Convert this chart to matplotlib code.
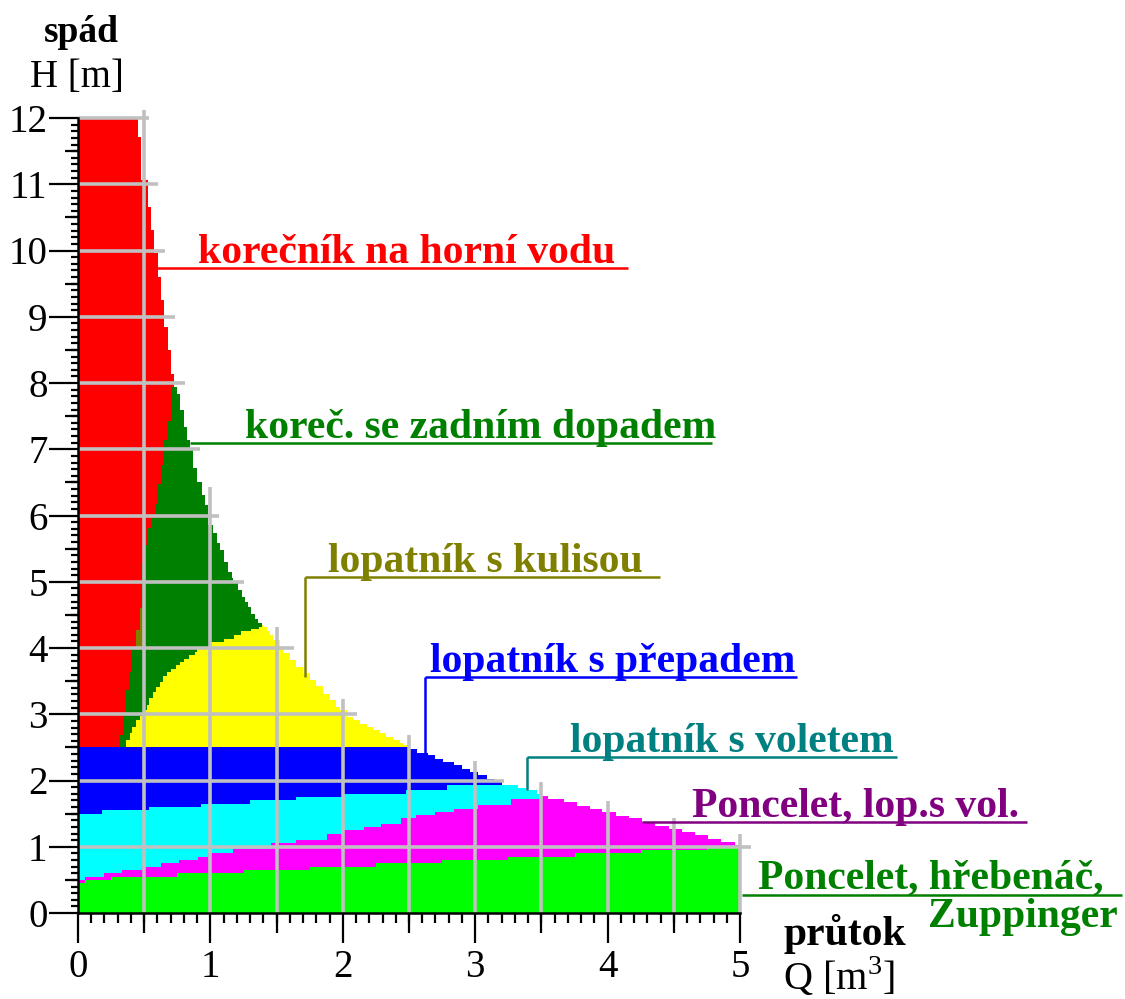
import numpy as np
import matplotlib
matplotlib.use("Agg")
import matplotlib.pyplot as plt
from matplotlib.markers import TICKLEFT, TICKDOWN

# ---------------- data ----------------
# upper envelope of all regions: column start edges (Q) and column tops (H)
env_Q = [0.000, 0.455, 0.476, 0.526, 0.551, 0.576, 0.602, 0.627, 0.652, 0.677,
         0.702, 0.728, 0.745, 0.770, 0.800, 0.820, 0.845, 0.870, 0.896, 0.934,
         0.960, 0.984, 1.020, 1.047, 1.070, 1.100, 1.135, 1.160, 1.170, 1.210,
         1.236, 1.260, 1.286, 1.310, 1.337, 1.360, 1.387, 1.400, 1.425, 1.450,
         1.475, 1.525, 1.550, 1.600, 1.650, 1.700, 1.750, 1.800, 1.850, 1.900,
         1.950, 1.980, 2.030, 2.080, 2.130, 2.180, 2.230, 2.280, 2.330, 2.380,
         2.430, 2.455, 2.510, 2.560, 2.640, 2.700, 2.760, 2.840, 2.900, 2.960,
         3.020, 3.090, 3.140, 3.200, 3.320, 3.380, 3.470, 3.490, 3.550, 3.670,
         3.770, 3.870, 3.960, 4.060, 4.160, 4.260, 4.360, 4.460, 4.560, 4.660,
         4.760, 4.860, 4.960, 5.000]
env_H = [12.00, 11.72, 11.06, 10.66, 10.31, 9.96, 9.60, 9.25, 8.85, 8.50,
         8.14, 7.94, 7.84, 7.59, 7.34, 7.14, 6.99, 6.71, 6.51, 6.31,
         6.16, 5.86, 5.73, 5.58, 5.48, 5.30, 5.15, 5.05, 4.98, 4.88,
         4.77, 4.70, 4.62, 4.52, 4.44, 4.37, 4.34, 4.32, 4.25, 4.20,
         4.12, 4.02, 3.92, 3.82, 3.72, 3.62, 3.52, 3.42, 3.31, 3.21,
         3.11, 3.06, 2.96, 2.91, 2.86, 2.81, 2.76, 2.71, 2.66, 2.61,
         2.56, 2.53, 2.48, 2.41, 2.38, 2.33, 2.28, 2.23, 2.18, 2.13,
         2.08, 2.03, 1.98, 1.93, 1.88, 1.85, 1.80, 1.77, 1.72, 1.67,
         1.62, 1.57, 1.52, 1.47, 1.43, 1.37, 1.32, 1.27, 1.22, 1.17,
         1.12, 1.07, 1.02]

# red region (korecnik na horni vodu): right edge Q for H steps (below where it meets envelope)
red_H = [2.50, 2.68, 3.00, 3.36, 3.64, 4.00, 4.27, 4.60, 5.28, 5.56, 5.81, 5.96,
         6.18, 6.48, 6.76, 7.14, 7.43]
red_Q = [0.320, 0.340, 0.360, 0.390, 0.410, 0.440, 0.470, 0.480, 0.506, 0.531,
         0.556, 0.580, 0.600, 0.627, 0.652, 0.677, 0.702]
red_join_H = 7.94

# small olive patch between red and dark green
olive_H = [4.00, 4.27, 4.62]
olive_Q = [0.44, 0.47]
olive_right = 0.49

# yellow region (lopatnik s kulisou): top, before it reaches the envelope
yel_Q = [0.36, 0.39, 0.41, 0.44, 0.47, 0.50, 0.52, 0.54, 0.57, 0.59, 0.62, 0.64,
         0.67, 0.70, 0.74, 0.77, 0.80, 0.84, 0.88, 0.90, 1.00, 1.10, 1.18, 1.23,
         1.31, 1.37, 1.387]
yel_H = [2.61, 2.71, 2.81, 2.91, 2.98, 3.06, 3.14, 3.24, 3.34, 3.41, 3.49, 3.58,
         3.64, 3.69, 3.74, 3.79, 3.84, 3.89, 3.94, 3.98, 4.09, 4.14, 4.19, 4.25,
         4.28, 4.32]
base_H = 2.5   # top of blue band (lopatnik s prepadem)

# cyan band top (lopatnik s voletem)
cyan_Q = [0.00, 0.18, 0.54, 0.93, 1.30, 1.65, 2.00, 2.48, 2.79, 3.20]
cyan_H = [1.50, 1.55, 1.60, 1.65, 1.70, 1.75, 1.80, 1.85, 1.93]
cyan_end = 3.49

# magenta band top (Poncelet, lop. s vol.)
mag_Q = [0.00, 0.05, 0.20, 0.33, 0.48, 0.63, 0.76, 0.91, 0.98, 1.17, 1.46, 1.65,
         1.88, 2.00, 2.16, 2.29, 2.44, 2.55, 2.70, 2.84, 3.02, 3.27, 3.49]
mag_H = [0.50, 0.55, 0.60, 0.65, 0.70, 0.75, 0.80, 0.85, 0.90, 0.97, 1.05, 1.10,
         1.20, 1.25, 1.30, 1.35, 1.43, 1.48, 1.53, 1.57, 1.63, 1.72]

# lime band top (Poncelet, hrebenac, Zuppinger)
lime_Q = [0.00, 0.05, 0.25, 0.75, 1.25, 1.75, 2.25, 2.75, 3.25, 3.75, 4.25, 4.75, 5.00]
lime_H = [0.45, 0.50, 0.55, 0.60, 0.65, 0.70, 0.75, 0.80, 0.85, 0.90, 0.95, 1.00]

labels = ["korečník na horní vodu", "koreč. se zadním dopadem", "lopatník s kulisou",
          "lopatník s přepadem", "lopatník s voletem", "Poncelet, lop.s vol.",
          "Poncelet, hřebenáč,", "Zuppinger"]
label_colors = ["#FF0000", "#008000", "#808000", "#0000FF", "#008080", "#800080",
                "#008000", "#008000"]
x_ticks = [0, 1, 2, 3, 4, 5]
y_ticks = list(range(0, 13))

# ---------------- drawing ----------------
plt.rcParams["font.family"] = ["Liberation Serif", "DejaVu Serif"]
plt.rcParams["mathtext.fontset"] = "custom"
plt.rcParams["mathtext.rm"] = "Liberation Serif"

W, Hpx = 1125, 999
fig = plt.figure(figsize=(W / 100, Hpx / 100), dpi=100)
ax = fig.add_axes([78 / W, 86 / Hpx, 662 / W, 795 / Hpx])
ax.set_xlim(0, 5)
ax.set_ylim(0, 12)

envQ = np.array(env_Q)
envH = np.array(env_H)


def env_segment(q0, q1):
    i0 = int(np.argmin(np.abs(envQ - q0)))
    i1 = int(np.argmin(np.abs(envQ - q1)))
    return list(envQ[i0:i1 + 1]), list(envH[i0:i1])


def sfill(edges, hi, lo, color, z):
    e = np.asarray(edges, float)
    hi = np.asarray(hi, float)
    lo = np.broadcast_to(np.asarray(lo, float), hi.shape)
    ax.fill_between(e, np.append(lo, lo[-1]), np.append(hi, hi[-1]), step="post",
                    color=color, lw=0, antialiased=False, zorder=z)


# dark green: everything under envelope above 2.5
sfill(envQ, np.maximum(envH, base_H), base_H, "#008000", 1)
# blue: everything under envelope below 2.5
sfill(envQ, np.minimum(envH, base_H), 0.0, "#0000FF", 1)

# olive sliver
ax.fill_betweenx(olive_H, olive_Q + [olive_Q[-1]], olive_right, step="post",
                 color="#808000", lw=0, antialiased=False, zorder=1.5)

# yellow
eq, eh = env_segment(1.387, 5.0)
yq = yel_Q[:-1] + eq
yh = yel_H + eh
sfill(yq, np.maximum(yh, base_H), base_H, "#FFFF00", 2)

# red (fill along H)
K = env_H.index(red_join_H)
rh = red_H + env_H[K:0:-1] + [env_H[0]]
rq = red_Q + env_Q[K:0:-1]
rq = rq + [rq[-1]]
ax.fill_betweenx(rh, 0, rq, step="post", color="#FF0000", lw=0,
                 antialiased=False, zorder=3)

# cyan
eq, eh = env_segment(cyan_Q[-1], cyan_end)
sfill(cyan_Q[:-1] + eq, cyan_H + eh, 0.0, "#00FFFF", 4)
# magenta
eq, eh = env_segment(mag_Q[-1], 5.0)
sfill(mag_Q[:-1] + eq, mag_H + eh, 0.0, "#FF00FF", 5)
# lime
sfill(lime_Q, lime_H, 0.0, "#00FF00", 6)

# grid lines clipped near the envelope
grid_c = "#C0C0C0"
grid_lw = 2.6
for xg in np.arange(0.5, 5.01, 0.5):
    mask = (envQ[:-1] < xg) & (envQ[1:] > xg - 0.05)
    top = envH[mask].max() + 0.12
    ax.vlines(xg, 0, top, colors=grid_c, lw=grid_lw, zorder=7, clip_on=False)
for yg in range(1, 13):
    mask = envH >= yg
    right = envQ[1:][mask].max() + 0.08
    ax.hlines(yg, 0, right, colors=grid_c, lw=grid_lw, zorder=7, clip_on=False)

# axes
for s in ["top", "right"]:
    ax.spines[s].set_visible(False)
for s in ["left", "bottom"]:
    ax.spines[s].set_linewidth(1.8)
    ax.spines[s].set_zorder(9)
ax.set_xticks(x_ticks)
ax.set_xticks(np.round(np.arange(0, 5.001, 0.1), 2), minor=True)
ax.set_yticks(y_ticks)
ax.set_yticks(np.round(np.arange(0, 12.001, 0.1), 2), minor=True)
ax.tick_params(axis="x", which="major", length=21.6, width=1.6, pad=4, labelsize=28)
ax.tick_params(axis="x", which="minor", length=7.2, width=1.6)
ax.tick_params(axis="y", which="major", length=20.9, width=1.6, pad=1, labelsize=28)
ax.tick_params(axis="y", which="minor", length=5.0, width=1.6)
half_x = np.arange(0.5, 5, 1.0)
half_y = np.arange(0.5, 12, 1.0)
ax.plot(half_x, np.zeros_like(half_x), ls="none", marker=TICKDOWN, ms=14.4, mew=1.6,
        color="k", clip_on=False, zorder=10)
ax.plot(np.zeros_like(half_y), half_y, ls="none", marker=TICKLEFT, ms=9.4, mew=1.6,
        color="k", clip_on=False, zorder=10)

# region labels with leader lines
lab_pos = [(0.906, 9.81), (1.261, 7.17), (1.888, 5.147), (2.659, 3.638),
           (3.716, 2.43), (4.637, 1.449), (5.136, 0.377), (6.42, -0.211)]
under = [(9.736, 0.597, 4.154), (7.094, 0.846, 4.789), (5.072, 1.715, 4.396),
         (3.562, 2.621, 5.431), (2.355, 3.391, 6.186), (1.374, 4.26, 7.168),
         (0.272, 5.015, 7.885), None]
drops = [None, None, (1.715, 3.562), (2.621, 2.385), (3.391, 1.857), None, None, None]
for txt, col, (tx, ty), u, d in zip(labels, label_colors, lab_pos, under, drops):
    ax.text(tx, ty, txt, color=col, fontsize=30, fontweight="bold",
            ha="left", va="baseline", clip_on=False, zorder=11)
    if u is not None:
        ax.plot([u[1], u[2]], [u[0], u[0]], color=col, lw=1.8, clip_on=False, zorder=11,
                solid_capstyle="butt")
        if d is not None:
            ax.plot([d[0], d[0]], [u[0], d[1]], color=col, lw=1.8, clip_on=False,
                    zorder=11, solid_capstyle="butt")

# axis titles
fig.text(81 / W, 1 - 42 / Hpx, "spád", fontsize=27, fontweight="bold", ha="center",
         va="baseline")
fig.text(77 / W, 1 - 87 / Hpx, "H [m]", fontsize=28, ha="center", va="baseline")
fig.text(783 / W, 1 - 945 / Hpx, "průtok", fontsize=30, fontweight="bold", ha="left",
         va="baseline")
fig.text(783 / W, 1 - 990 / Hpx, r"Q [m$^{\mathrm{3}}$]", fontsize=29, ha="left",
         va="baseline")

fig.savefig("out.png", dpi=100, facecolor="white")
